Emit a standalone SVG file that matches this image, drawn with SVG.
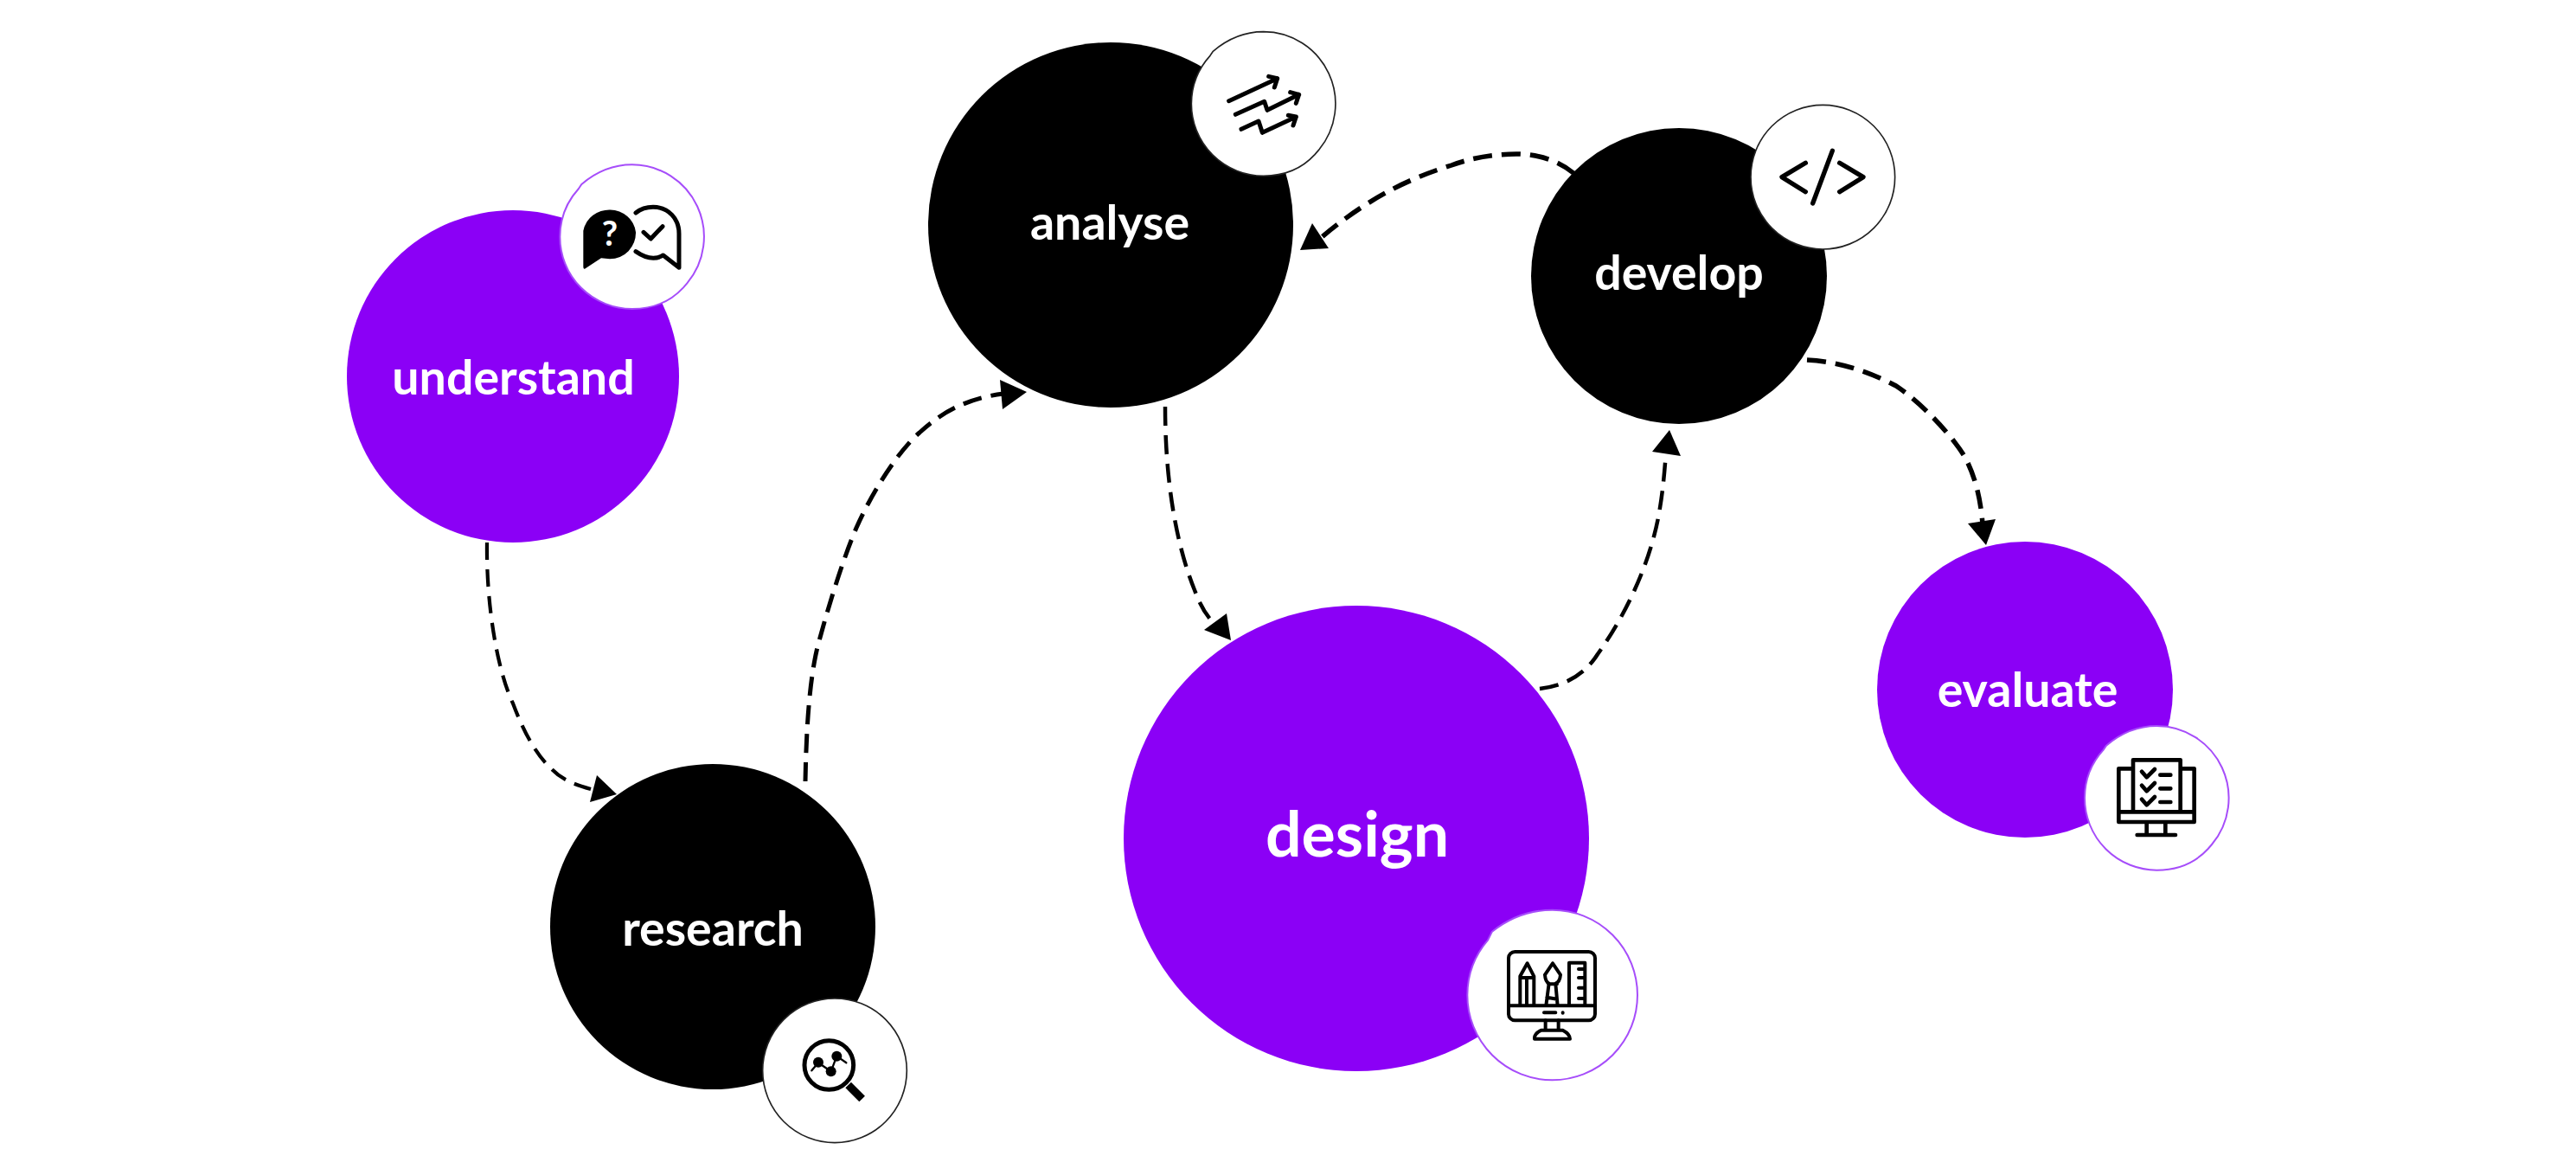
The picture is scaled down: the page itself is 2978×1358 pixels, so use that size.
<svg xmlns="http://www.w3.org/2000/svg" width="2978" height="1358" viewBox="0 0 2978 1358">
<style>
.p{fill:#8b00f6}.k{fill:#000}
.l{font-family:Lato,"Liberation Sans",sans-serif;font-weight:700;font-size:55.5px;fill:#fff;text-anchor:middle}
.b{fill:#fff;stroke:#222;stroke-width:5}
.bp{fill:#fff;stroke:#a64dfa;stroke-width:6}
.i{fill:none;stroke:#000;stroke-width:15;stroke-linecap:round;stroke-linejoin:round}
.c{fill:none;stroke:#000;stroke-width:5.5;stroke-dasharray:22 11}
.a{fill:#000}
</style>
<rect width="2978" height="1358" fill="#fff"/>
<g id="connectors">
<path class="c" style="stroke-width:4.2;stroke-dasharray:20 11" d="M563 627C562 700 575 775 593 813C605 845 620 873 637 888C650 902 665 907 690 914"/>
<polygon class="a" points="713,918 690,896 682,927"/>
<path class="c" style="stroke-width:5" d="M931 903C932 850 935 780 948 737C958 700 975 645 990 610C1010 565 1040 520 1063 500C1090 475 1120 460 1160 455"/>
<polygon class="a" points="1187,453 1156,439 1159,473"/>
<path class="c" d="M1819 200C1800 184 1775 178 1753 178C1725 178 1700 183 1678 191C1640 203 1590 222 1528 274"/>
<polygon class="a" points="1503,289 1517,258 1536,287"/>
<path class="c" style="stroke-width:4.5" d="M1347 470C1347 550 1358 625 1381 682C1387 698 1393 710 1405 722"/>
<polygon class="a" points="1423,740 1418,709 1392,728"/>
<path class="c" style="stroke-width:4.5" d="M1780 796C1815 792 1835 775 1847 756C1880 710 1908 650 1918 593C1922 570 1924 550 1926 522"/>
<polygon class="a" points="1930,497 1910,522 1943,527"/>
<path class="c" d="M2089 416C2130 418 2165 432 2192 446C2225 468 2262 510 2273 531C2285 555 2290 580 2292 606"/>
<polygon class="a" points="2296,630 2275,605 2307,600"/>
</g>
<g id="understand">
<circle class="p" cx="593" cy="435" r="192"/>
<text class="l" x="593.5" y="456">understand</text>
<g transform="translate(620,170) scale(.3333)">
<path class="bp" d="M332 61A250 250 0 0 1 523 472L510 487Q442 561 332 561A250 250 0 0 1 82 311A250 250 0 0 1 147 144L157 129Q237 61 332 61Z"/>
<path d="M163 290A92 88 0 0 1 345 295A90 90 0 0 1 255 388L225 385L168 422Q163 424 163 415Z"/>
<text x="255" y="342" text-anchor="middle" font-family="Lato,sans-serif" font-weight="700" font-size="120" fill="#fff">?</text>
<path class="i" d="M345 228Q370 208 405 208C460 208 495 250 495 300L495 418L440 375Q400 400 345 362M372 295L397 318L438 275"/>
</g>
</g>
<g id="research">
<circle class="k" cx="824" cy="1071" r="188"/>
<text class="l" x="824" y="1093">research</text>
<g transform="translate(860,1130) scale(.3333)">
<circle class="b" cx="315" cy="322" r="250"/>
<circle class="i" cx="295" cy="303" r="85"/>
<path d="M362 372L410 420" stroke="#000" stroke-width="28" fill="none"/>
<circle cx="258" cy="293" r="18"/><circle cx="302" cy="325" r="18"/><circle cx="322" cy="272" r="18"/>
<path class="i" style="stroke-width:7" d="M235 322L258 295L302 325L322 272L355 295"/>
</g>
</g>
<g id="analyse">
<circle class="k" cx="1284" cy="260" r="211"/>
<text class="l" x="1283" y="277">analyse</text>
<g transform="translate(1360,20) scale(.3333)">
<path class="b" d="M302 50A250 250 0 0 1 493 461L480 476Q412 550 302 550A250 250 0 0 1 52 300A250 250 0 0 1 117 133L127 118Q207 50 302 50Z"/>
<path class="i" d="M182 290L350 212M320 205L350 212L340 243M205 337L305 292L315 322L425 268M395 260L425 268L415 298M225 388L285 360L298 400L415 345M388 340L415 345L405 375"/>
</g>
</g>
<g id="develop">
<circle class="k" cx="1941" cy="319" r="171"/>
<text class="l" x="1941" y="335">develop</text>
<g transform="translate(2000,110) scale(.3333)">
<circle class="b" cx="322" cy="284" r="250"/>
<path class="i" style="stroke-width:16" d="M262 235L180 284L262 335M380 235L462 284L380 335M355 193L287 375"/>
</g>
</g>
<g id="design">
<circle class="p" cx="1568" cy="969" r="269"/>
<text class="l" style="font-size:73.5px" x="1569" y="990">design</text>
<g transform="translate(1670,1030) scale(.3333)">
<path class="bp" d="M374 65A295 295 0 1 1 374 655A295 295 0 0 1 79 360A295 295 0 0 1 150 170L165 140Q260 65 374 65Z"/>
<g class="i" style="stroke-width:12">
<rect x="222" y="210" width="300" height="238" rx="22"/>
<path d="M222 397L522 397M345 421L385 421M410 421L410 422M350 448L350 482M395 448L395 482M312 512Q310 495 335 482L410 482Q435 495 435 512ZM262 397L262 295L287 250L310 295L310 397M262 300L310 300M285 305L285 397M375 250L348 290Q350 315 362 320L352 397M375 250L402 290Q400 315 385 320L392 397M360 322L390 322M355 368L390 374M432 397L432 248L487 248L487 397M465 270L487 270M465 300L487 300M465 335L487 335M465 372L487 372"/>
</g>
</g>
</g>
<g id="evaluate">
<circle class="p" cx="2341" cy="797" r="171"/>
<text class="l" x="2344" y="817">evaluate</text>
<g transform="translate(2390,820) scale(.3333)">
<path class="bp" d="M310 57A250 250 0 0 1 501 468L488 483Q420 557 310 557A250 250 0 0 1 60 307A250 250 0 0 1 125 140L135 125Q215 57 310 57Z"/>
<g class="i" style="stroke-width:14">
<path d="M228 205L178 205L178 390L440 390L440 205L392 205M178 355L440 355M228 355L228 175L392 175L392 355M258 215L275 235L303 207M258 263L275 283L303 255M258 311L275 331L303 303M322 227L358 227M322 274L358 274M322 321L358 321M275 392L275 435M340 392L340 435M242 435L375 435"/>
</g>
</g>
</g>
</svg>
